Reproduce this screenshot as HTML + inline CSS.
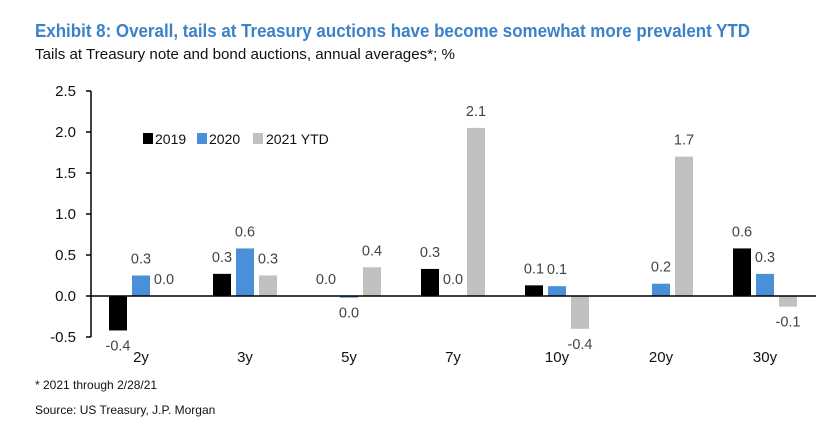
<!DOCTYPE html>
<html><head><meta charset="utf-8"><style>
body{margin:0;background:#fff;font-family:"Liberation Sans",sans-serif;}
svg text{font-family:"Liberation Sans",sans-serif;}
</style></head><body>
<svg width="835" height="429" viewBox="0 0 835 429">
<text x="35" y="37" font-size="18" font-weight="bold" fill="#3b82c8" textLength="715" lengthAdjust="spacingAndGlyphs">Exhibit 8: Overall, tails at Treasury auctions have become somewhat more prevalent YTD</text>
<text x="35" y="59" font-size="15" fill="#111" textLength="420" lengthAdjust="spacingAndGlyphs">Tails at Treasury note and bond auctions, annual averages*; %</text>
<g id="yaxis"></g>
<g id="bars"></g>
<g id="labels"></g>
<g id="xaxis"></g>
<g>
<rect x="143" y="133" width="10" height="11" fill="#000"/>
<text x="155" y="144" font-size="14" fill="#111">2019</text>
<rect x="197" y="133" width="10" height="11" fill="#4a90d9"/>
<text x="209" y="144" font-size="14" fill="#111">2020</text>
<rect x="253" y="133" width="10" height="11" fill="#c0c0c0"/>
<text x="266" y="144" font-size="14" fill="#111">2021 YTD</text>
</g>
<text x="35" y="389" font-size="12" fill="#111">* 2021 through 2/28/21</text>
<text x="35" y="414" font-size="12" fill="#111">Source: US Treasury, J.P. Morgan</text>
</svg>
<script>
const categories=["2y","3y","5y","7y","10y","20y","30y"];
const s2019=[-0.42,0.27,0,0.33,0.13,0,0.58];
const s2020=[0.25,0.58,-0.02,0,0.12,0.15,0.27];
const s2021=[0,0.25,0.35,2.05,-0.4,1.7,-0.13];
const lab2019=["-0.4","0.3","0.0","0.3","0.1","","0.6"];
const lab2020=["0.3","0.6","0.0","0.0","0.1","0.2","0.3"];
const lab2021=["0.0","0.3","0.4","2.1","-0.4","1.7","-0.1"];
const yTicks=[-0.5,0,0.5,1.0,1.5,2.0,2.5];
const NS="http://www.w3.org/2000/svg";
const y=v=>296-v*82;
const x0=89,cw=104;
function mk(t,a,p){const e=document.createElementNS(NS,t);for(const k in a)e.setAttribute(k,a[k]);p.appendChild(e);return e;}
const ya=document.getElementById('yaxis');
mk('line',{x1:91,y1:y(2.5),x2:91,y2:y(-0.5),stroke:'#000','stroke-width':1.5},ya);
yTicks.forEach(t=>{
 mk('line',{x1:86,y1:y(t),x2:91,y2:y(t),stroke:'#000','stroke-width':1.5},ya);
 const tx=mk('text',{x:76,y:y(t)+5,'font-size':15,'text-anchor':'end',fill:'#111'},ya);
 tx.textContent=t.toFixed(1);
 
 
});
const xa=document.getElementById('xaxis');
mk('line',{x1:91,y1:y(0),x2:816,y2:y(0),stroke:'#000','stroke-width':1.5},xa);
const series=[[s2019,lab2019,'#000','2019'],[s2020,lab2020,'#4a90d9','2020'],[s2021,lab2021,'#c0c0c0','2021']];
const bg=document.getElementById('bars'),lg=document.getElementById('labels');
categories.forEach((c,i)=>{
 const cx=x0+cw*i+cw/2;
 const t=mk('text',{x:cx,y:362,'font-size':15,'text-anchor':'middle',fill:'#111'},xa);
 t.textContent=c;
 
 
 series.forEach((s,j)=>{
  const v=s[0][i],bx=cx+(j-1)*23-9;
  const r=mk('rect',{x:bx,y:Math.min(y(v),y(0)),width:18,height:Math.abs(y(v)-y(0)),fill:s[2]},bg);
  
  
  if(s[1][i]){
   const ly=v<0?y(v)+20:y(v)-12;
   const l=mk('text',{x:bx+9,y:ly,'font-size':14.5,'text-anchor':'middle',fill:'#444'},lg);
   l.textContent=s[1][i];
   
   
  }
 });
});
</script>
</body></html>
